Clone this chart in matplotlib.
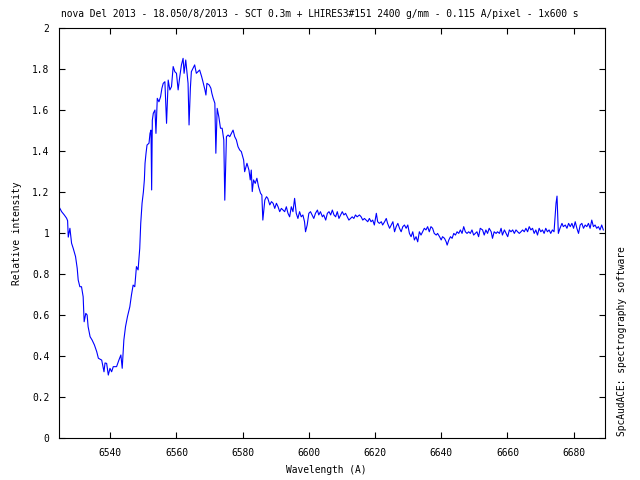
import matplotlib
matplotlib.use("Agg")
from matplotlib import pyplot as plt
import numpy as np

# spectrum (wavelength in A, relative intensity)
wavelength = [
    6524.5, 6525.3, 6526.1, 6526.8, 6527.1, 6527.3, 6527.8, 6528.3, 6528.8, 6529.5,
    6530.0, 6530.3, 6530.8, 6531.3, 6531.8, 6532.1, 6532.6, 6533.0, 6533.3, 6533.9,
    6534.5, 6535.2, 6535.9, 6536.4, 6537.4, 6538.1, 6538.4, 6538.9, 6539.4, 6539.9,
    6540.4, 6540.9, 6541.9, 6542.6, 6543.2, 6543.6, 6544.1, 6544.6, 6545.2, 6545.9,
    6546.4, 6546.9, 6547.4, 6547.9, 6548.4, 6548.9, 6549.2, 6549.6, 6550.0, 6550.3,
    6550.5, 6550.8, 6551.1, 6551.7, 6552.0, 6552.3, 6552.5, 6552.7, 6553.0, 6553.5,
    6553.8, 6554.2, 6554.7, 6555.2, 6555.6, 6556.0, 6556.5, 6557.0, 6557.5, 6558.0,
    6558.5, 6559.0, 6559.5, 6560.0, 6560.5, 6561.0, 6561.5, 6562.0, 6562.3, 6562.8,
    6563.2, 6563.5, 6563.8, 6564.2, 6564.5, 6565.0, 6565.5, 6566.0, 6566.5, 6567.0,
    6567.6, 6568.0, 6568.6, 6568.9, 6569.2, 6569.9, 6570.4, 6570.7, 6571.1, 6571.6,
    6571.9, 6572.3, 6572.8, 6573.3, 6573.8, 6574.3, 6574.6, 6575.1, 6575.6, 6576.1,
    6576.6, 6577.1, 6577.6, 6578.1, 6578.6, 6579.1, 6579.6, 6580.3, 6580.6, 6581.3,
    6581.9, 6582.3, 6582.6, 6582.9, 6583.3, 6583.8, 6584.3, 6584.8, 6585.4, 6585.8,
    6586.1, 6586.7, 6587.2, 6587.6, 6588.2, 6588.7, 6589.2, 6589.7, 6590.2, 6590.7,
    6591.2, 6591.7, 6592.2, 6592.7, 6593.2, 6593.7, 6594.2, 6594.7, 6595.2, 6595.7,
    6596.2, 6596.7, 6597.2, 6597.7, 6598.2, 6598.7, 6599.0, 6599.5, 6600.0, 6600.5,
    6601.0, 6601.5, 6602.0, 6602.6, 6603.0, 6603.5, 6604.1, 6604.5, 6605.1, 6605.6,
    6606.1, 6606.6, 6607.1, 6607.6, 6608.1, 6608.6, 6609.1, 6609.6, 6610.1, 6610.6,
    6611.1, 6611.6, 6612.1, 6612.6, 6613.1, 6613.6, 6614.1, 6614.6, 6615.3, 6615.8,
    6616.3, 6616.8, 6617.3, 6617.8, 6618.3, 6618.8, 6619.3, 6619.8, 6620.4, 6620.8,
    6621.3, 6621.9, 6622.3, 6622.9, 6623.4, 6623.8, 6624.4, 6624.9, 6625.4, 6625.9,
    6626.4, 6626.9, 6627.4, 6627.9, 6628.4, 6628.9, 6629.4, 6629.9, 6630.4, 6630.9,
    6631.4, 6631.9, 6632.4, 6632.9, 6633.4, 6633.9, 6634.4, 6634.9, 6635.4, 6635.9,
    6636.4, 6636.9, 6637.4, 6637.9, 6638.5, 6638.9, 6639.5, 6640.0, 6640.4, 6641.0,
    6641.5, 6641.8, 6642.3, 6642.8, 6643.3, 6643.8, 6644.3, 6644.8, 6645.3, 6645.8,
    6646.3, 6646.8, 6647.3, 6647.8, 6648.3, 6648.8, 6649.3, 6649.8, 6650.3, 6650.8,
    6651.3, 6651.8, 6652.5, 6653.0, 6653.5, 6654.0, 6654.5, 6655.1, 6655.5, 6656.0,
    6656.6, 6657.0, 6657.6, 6658.1, 6658.5, 6659.1, 6659.6, 6660.1, 6660.6, 6661.1,
    6661.6, 6662.1, 6662.6, 6663.1, 6663.6, 6664.1, 6664.6, 6665.1, 6665.6, 6666.1,
    6666.6, 6667.1, 6667.6, 6668.1, 6668.6, 6669.1, 6669.6, 6670.1, 6670.6, 6671.1,
    6671.6, 6672.1, 6672.6, 6673.1, 6673.6, 6674.1, 6674.7, 6675.0, 6675.4, 6675.9,
    6676.5, 6676.9, 6677.5, 6678.0, 6678.5, 6679.0, 6679.5, 6680.0, 6680.5, 6681.0,
    6681.5, 6682.0, 6682.5, 6683.0, 6683.5, 6684.0, 6684.5, 6685.0, 6685.5, 6686.0,
    6686.5, 6687.0, 6687.5, 6688.0, 6688.5, 6689.0,
]
intensity = [
    1.128, 1.104, 1.088, 1.072, 1.060, 0.980, 1.023, 0.950, 0.925, 0.885,
    0.828, 0.771, 0.738, 0.738, 0.689, 0.567, 0.608, 0.600, 0.543, 0.494,
    0.478, 0.454, 0.421, 0.389, 0.380, 0.323, 0.366, 0.364, 0.307, 0.340,
    0.323, 0.348, 0.348, 0.380, 0.405, 0.340, 0.478, 0.543, 0.593, 0.640,
    0.698, 0.746, 0.738, 0.836, 0.820, 0.925, 1.047, 1.145, 1.200, 1.260,
    1.340, 1.389, 1.429, 1.438, 1.486, 1.502, 1.210, 1.550, 1.584, 1.600,
    1.486, 1.657, 1.640, 1.665, 1.706, 1.730, 1.738, 1.535, 1.746, 1.698,
    1.714, 1.812, 1.787, 1.779, 1.698, 1.763, 1.820, 1.852, 1.779, 1.844,
    1.779, 1.730, 1.527, 1.706, 1.787, 1.803, 1.820, 1.779, 1.787, 1.795,
    1.763, 1.738, 1.698, 1.673, 1.730, 1.722, 1.706, 1.681, 1.657, 1.633,
    1.389, 1.608, 1.567, 1.511, 1.511, 1.454, 1.160, 1.470, 1.478, 1.470,
    1.486, 1.502, 1.470, 1.454, 1.421, 1.405, 1.397, 1.356, 1.299, 1.340,
    1.307, 1.259, 1.307, 1.202, 1.259, 1.242, 1.267, 1.226, 1.194, 1.185,
    1.063, 1.161, 1.177, 1.169, 1.137, 1.153, 1.145, 1.120, 1.145, 1.128,
    1.104, 1.120, 1.112, 1.104, 1.128, 1.096, 1.079, 1.128, 1.104, 1.169,
    1.096, 1.071, 1.104, 1.079, 1.088, 1.055, 1.006, 1.039, 1.096, 1.104,
    1.088, 1.071, 1.096, 1.112, 1.088, 1.104, 1.079, 1.088, 1.063, 1.096,
    1.104, 1.088, 1.112, 1.088, 1.079, 1.104, 1.071, 1.088, 1.104, 1.088,
    1.096, 1.079, 1.063, 1.071, 1.079, 1.071, 1.088, 1.079, 1.088, 1.079,
    1.063, 1.071, 1.063, 1.055, 1.071, 1.055, 1.063, 1.039, 1.096, 1.055,
    1.047, 1.055, 1.039, 1.055, 1.071, 1.047, 1.023, 1.039, 1.055, 1.006,
    1.031, 1.047, 1.023, 1.006, 1.031, 1.039, 1.023, 1.039, 0.998, 0.982,
    1.006, 0.966, 0.982, 0.957, 1.006, 0.990, 1.006, 1.023, 1.015, 1.031,
    1.006, 1.031, 1.023, 0.998, 0.990, 0.998, 0.982, 0.966, 0.982, 0.974,
    0.957, 0.941, 0.966, 0.982, 0.974, 0.998, 0.990, 1.006, 0.998, 1.015,
    0.998, 1.031, 1.006, 0.998, 1.006, 0.998, 1.015, 0.990, 0.998, 1.006,
    0.982, 1.023, 1.015, 0.990, 1.015, 0.998, 1.023, 1.006, 0.974, 1.006,
    0.998, 1.006, 0.998, 1.023, 0.990, 1.015, 0.998, 0.982, 1.015, 1.006,
    1.015, 0.998, 1.015, 1.006, 0.998, 1.006, 1.015, 1.006, 1.023, 1.006,
    1.031, 1.015, 1.023, 0.998, 1.015, 0.990, 1.023, 1.006, 1.015, 0.998,
    1.023, 1.006, 1.015, 0.998, 1.015, 1.006, 1.145, 1.180, 0.998, 1.023,
    1.047, 1.031, 1.039, 1.023, 1.047, 1.031, 1.047, 1.023, 1.055, 1.023,
    0.998, 1.039, 1.047, 1.023, 1.039, 1.031, 1.047, 1.023, 1.063, 1.031,
    1.039, 1.023, 1.031, 1.015, 1.039, 1.015,
]

title = "nova Del 2013 - 18.050/8/2013 - SCT 0.3m + LHIRES3#151 2400 g/mm - 0.115 A/pixel - 1x600 s"
x_ticks = [6540, 6560, 6580, 6600, 6620, 6640, 6660, 6680]
y_ticks = [0, 0.2, 0.4, 0.6, 0.8, 1, 1.2, 1.4, 1.6, 1.8, 2]
y_tick_labels = ["0", "0.2", "0.4", "0.6", "0.8", "1", "1.2", "1.4", "1.6", "1.8", "2"]

plt.rcParams['font.family'] = ['DejaVu Sans Mono']
fs = 6.9

fig = plt.figure(figsize=(6.4, 4.8), dpi=100)
ax = fig.add_axes([59 / 640, 42 / 480, 546 / 640, 410 / 480])
ax.plot(wavelength, intensity, color='#0000ff', linewidth=0.8)

ax.set_xlim(6524.5, 6689.5)
ax.set_ylim(0, 2)
ax.set_xticks(x_ticks)
ax.set_xticklabels([str(t) for t in x_ticks])
ax.set_yticks(y_ticks)
ax.set_yticklabels(y_tick_labels)
ax.tick_params(direction='in', length=4, width=0.8, top=True, right=True,
               labelsize=fs, pad=7)
for s in ax.spines.values():
    s.set_linewidth(0.8)

fig.text(0.5, 1 - 14 / 480, title, ha='center', va='center', fontsize=fs)
fig.text(326 / 640, 1 - 470 / 480, "Wavelength (A)", ha='center', va='center', fontsize=fs)
fig.text(17 / 640, 1 - 233 / 480, "Relative intensity", ha='center', va='center',
         rotation=90, fontsize=fs)
fig.text(622 / 640, 1 - 436 / 480, "SpcAudACE: spectrography software", ha='center',
         va='bottom', rotation=90, fontsize=fs)

fig.savefig("out.png", dpi=100)
